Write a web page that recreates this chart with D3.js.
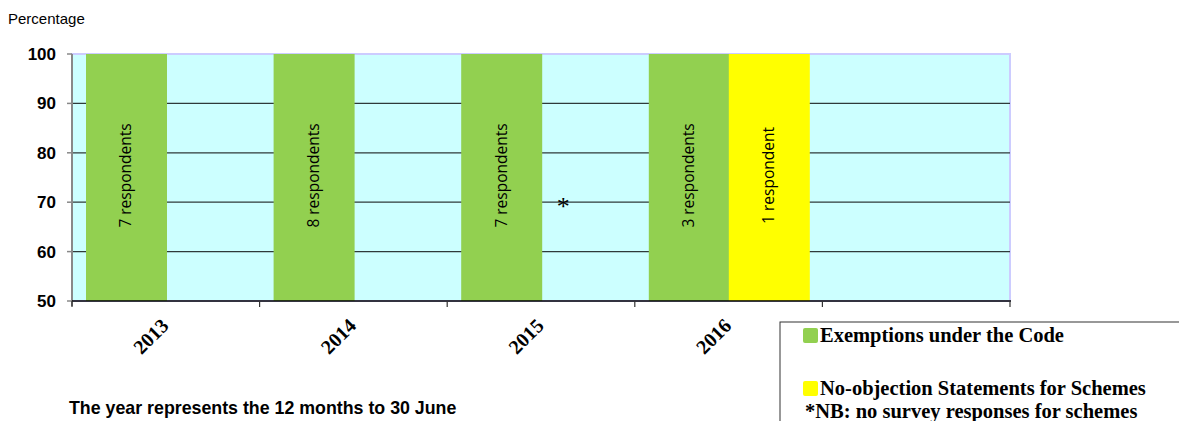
<!DOCTYPE html>
<meta charset='utf-8'>
<head>
  <title>Respondents</title>
</head>
<style>
body { margin: 0; background: white; }
.ylab { font-family: Arial, "Liberation Sans", sans-serif; font-size: 17px; font-weight: bold; }
.xlab { font-family: "Liberation Serif", "Times New Roman", serif; font-size: 20px; font-weight: bold; }
.barlab { font-family: "Open Sans", "Noto Sans", sans-serif; font-size: 15.5px; }
.legend text { font-family: "Liberation Serif", "Times New Roman", serif; font-size: 20.5px; font-weight: bold; }
</style>
<body>
<svg width='1179' height='421'></svg>
<script src='https://cdn.jsdelivr.net/npm/d3@7'></script>
<script>
var years = ['2013', '2014', '2015', '2016', ''];
var series = ['Exemptions under the Code', 'No-objection Statements for Schemes'];
var colors = ['#92d050', '#ffff00'];
// percentage per year, null = no responses
var exemptions = [100, 100, 100, 100, null];
var noObjection = [null, null, null, 100, null];
var exemptionLabels = ['7 respondents', '8 respondents', '7 respondents', '3 respondents', ''];
var noObjectionLabels = ['', '', '', '1 respondent', ''];
var yTicks = [50, 60, 70, 80, 90, 100];

var pLeft = 72, pRight = 1010, pTop = 54, pBottom = 301;
var svg = d3.select('svg');

var x = d3.scaleBand().domain(years).range([pLeft, pRight]);
var x1 = d3.scaleBand().domain([0, 1]).range([14, 174]);
var y = d3.scaleLinear().domain([50, 100]).range([pBottom, pTop]);

svg.append('rect')
  .attr('x', pLeft).attr('y', pTop)
  .attr('width', pRight - pLeft).attr('height', pBottom - pTop)
  .attr('fill', '#ccffff').attr('stroke', '#ccccff').attr('stroke-width', 2);

// gridlines
svg.append('g').selectAll('line')
  .data(yTicks.filter(function(d) { return d > 50 && d < 100; }))
  .enter().append('line')
  .attr('x1', pLeft).attr('x2', pRight)
  .attr('y1', function(d) { return y(d); }).attr('y2', function(d) { return y(d); })
  .attr('stroke', '#2f3a3a').attr('stroke-width', 1.2);

var rows = [];
years.forEach(function(yr, i) {
  rows.push({year: yr, s: 0, v: exemptions[i], label: exemptionLabels[i]});
  rows.push({year: yr, s: 1, v: noObjection[i], label: noObjectionLabels[i]});
});
rows = rows.filter(function(d) { return d.v !== null; });

svg.append('g').selectAll('rect')
  .data(rows).enter().append('rect')
  .attr('x', function(d) { return x(d.year) + x1(d.s); })
  .attr('width', x1.bandwidth() + 1)
  .attr('y', function(d) { return y(d.v); })
  .attr('height', function(d) { return y(50) - y(d.v); })
  .attr('fill', function(d) { return colors[d.s]; });

svg.append('g').selectAll('text')
  .data(rows).enter().append('text')
  .attr('class', 'barlab')
  .attr('text-anchor', 'middle')
  .attr('dy', '0.35em')
  .attr('transform', function(d) {
    return 'translate(' + (x(d.year) + x1(d.s) + x1.bandwidth() / 2) + ',' + (y(75) - 2) + ') rotate(-90)';
  })
  .text(function(d) { return d.label; });

// asterisk for 2015 (no scheme responses)
svg.append('text')
  .attr('x', x('2015') + x1(1) + 22)
  .attr('y', y(70) + 13)
  .attr('text-anchor', 'middle')
  .style('font-family', '"Liberation Serif", serif')
  .style('font-size', '26px')
  .text('*');

// axes
svg.append('line')
  .attr('x1', pLeft).attr('x2', pLeft).attr('y1', pTop).attr('y2', pBottom + 5)
  .attr('stroke', '#888').attr('stroke-width', 2);
svg.append('line')
  .attr('x1', pLeft).attr('x2', pRight + 1).attr('y1', pBottom).attr('y2', pBottom)
  .attr('stroke', '#000').attr('stroke-width', 1.5);

svg.append('g').selectAll('line')
  .data(yTicks).enter().append('line')
  .attr('x1', pLeft - 5).attr('x2', pLeft)
  .attr('y1', function(d) { return y(d); }).attr('y2', function(d) { return y(d); })
  .attr('stroke', '#888').attr('stroke-width', 1.5);

svg.append('g').selectAll('text')
  .data(yTicks).enter().append('text')
  .attr('class', 'ylab')
  .attr('x', 56).attr('y', function(d) { return y(d); })
  .attr('dy', '0.35em').attr('text-anchor', 'end')
  .text(function(d) { return d; });

var xt = years.map(function(d) { return x(d); }).concat([pRight]);
svg.append('g').selectAll('line')
  .data(xt).enter().append('line')
  .attr('x1', function(d) { return d; }).attr('x2', function(d) { return d; })
  .attr('y1', pBottom).attr('y2', pBottom + 6)
  .attr('stroke', '#333').attr('stroke-width', 1.2);

svg.append('g').selectAll('text')
  .data(years.filter(function(d) { return d; })).enter().append('text')
  .attr('class', 'xlab')
  .attr('text-anchor', 'end')
  .attr('transform', function(d) {
    return 'translate(' + (x(d) + x.bandwidth() / 2 + 4) + ',' + 327 + ') rotate(-45)';
  })
  .text(function(d) { return d; });

svg.append('text')
  .attr('x', 8).attr('y', 24)
  .style('font-family', 'Arial, "Liberation Sans", sans-serif')
  .style('font-size', '15px')
  .text('Percentage');

svg.append('text')
  .attr('x', 69).attr('y', 414)
  .style('font-family', 'Arial, "Liberation Sans", sans-serif')
  .style('font-size', '17.8px').style('font-weight', 'bold')
  .text('The year represents the 12 months to 30 June');

// legend
var lg = svg.append('g').attr('class', 'legend');
lg.append('rect')
  .attr('x', 780).attr('y', 322).attr('width', 420).attr('height', 120)
  .attr('fill', 'white').attr('stroke', '#333').attr('stroke-width', 1);
var ly = [335, 388];
series.forEach(function(s, i) {
  lg.append('rect')
    .attr('x', 803).attr('y', ly[i] - 7).attr('width', 15).attr('height', 15)
    .attr('rx', 2).attr('fill', colors[i]);
  lg.append('text')
    .attr('x', 820).attr('y', ly[i] + 7)
    .text(s);
});
lg.append('text')
  .attr('x', 805).attr('y', 418)
  .text('*NB: no survey responses for schemes');
</script>
</body>
</html>
